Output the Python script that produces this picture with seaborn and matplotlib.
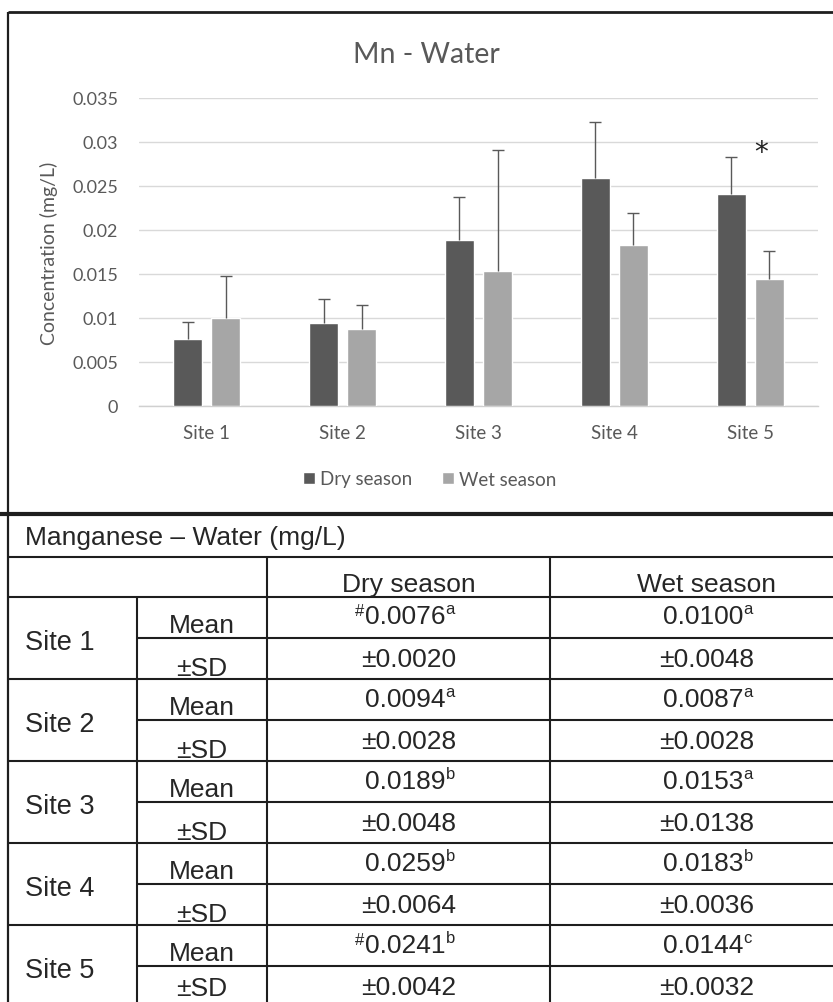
import matplotlib
matplotlib.use("Agg")
import numpy as np
import pandas as pd
import seaborn as sns
import matplotlib.pyplot as plt
from matplotlib.patches import Patch
from matplotlib.lines import Line2D

# ---------------- data ----------------
sites = ["Site 1", "Site 2", "Site 3", "Site 4", "Site 5"]
seasons = ["Dry season", "Wet season"]
dry_mean = [0.0076, 0.0094, 0.0189, 0.0259, 0.0241]
wet_mean = [0.0100, 0.0087, 0.0153, 0.0183, 0.0144]
dry_sd = [0.0020, 0.0028, 0.0048, 0.0064, 0.0042]
wet_sd = [0.0048, 0.0028, 0.0138, 0.0036, 0.0032]
dry_letters = ["a", "a", "b", "b", "b"]
wet_letters = ["a", "a", "a", "b", "c"]
dry_prefix = ["#", "", "", "", "#"]
y_ticks = [0, 0.005, 0.01, 0.015, 0.02, 0.025, 0.03, 0.035]
y_ticklabels = ["0", "0.005", "0.01", "0.015", "0.02", "0.025", "0.03", "0.035"]
chart_title = "Mn - Water"
y_title = "Concentration (mg/L)"
table_title = "Manganese \u2013 Water (mg/L)"
mean_label = "Mean"
sd_label = "\u00b1SD"
star_site = 4  # index of site with significance star (wet bar)

DARK = "#595959"
LIGHT = "#a6a6a6"
TXT = "#595959"
LINE = "#1e1e1e"

sns.set_theme(style="white")
plt.rcParams["font.family"] = ["Lato", "DejaVu Sans"]

W, H = 833, 1003
fig = plt.figure(figsize=(W / 100, H / 100), dpi=100)
fig.patch.set_facecolor("white")

df = pd.DataFrame({
    "Site": sites * 2,
    "Season": [seasons[0]] * len(sites) + [seasons[1]] * len(sites),
    "Mean": dry_mean + wet_mean,
})

ax = fig.add_axes([139 / W, 1 - 407 / H, 679 / W, 308 / H])
sns.barplot(data=df, x="Site", y="Mean", hue="Season", hue_order=seasons,
            palette=[DARK, LIGHT], width=0.56, gap=0.236, errorbar=None,
            saturation=1, legend=False, ax=ax, zorder=3)

bars = ax.patches
xs = np.array([p.get_x() + p.get_width() / 2 for p in bars])
means = np.array(dry_mean + wet_mean)
sds = np.array(dry_sd + wet_sd)
_, caplines, _ = ax.errorbar(xs, means, yerr=[np.zeros_like(sds), sds], fmt="none",
                             ecolor=DARK, elinewidth=1.0, capsize=4, capthick=1.0, zorder=4)
for cl in caplines:
    if np.allclose(cl.get_ydata(), means):
        cl.set_visible(False)

ax.set_ylim(0, 0.035)
ax.set_xlim(-0.5, len(sites) - 0.5)
ax.set_yticks(y_ticks)
ax.set_yticklabels(y_ticklabels)
ax.yaxis.grid(True, color="#d9d9d9", lw=1.0, zorder=0)
ax.set_axisbelow(True)
for s in ["left", "right", "top"]:
    ax.spines[s].set_visible(False)
ax.spines["bottom"].set_color("#d0d0d0")
ax.spines["bottom"].set_linewidth(1.0)
ax.tick_params(axis="both", length=0, colors=TXT)
ax.tick_params(axis="y", pad=15, labelsize=13)
ax.tick_params(axis="x", pad=13, labelsize=13.5)
ax.set_xlabel("")
ax.set_ylabel(y_title, fontsize=14, color=TXT, labelpad=10)

# significance star
ax.annotate("*", xy=(xs[len(sites) + star_site], 0.029), xytext=(-6, -1),
            textcoords="offset points", ha="center", va="center",
            fontsize=20, color="#222222", family=["DejaVu Sans"])

fig.text(426 / W, 1 - 55 / H, chart_title, ha="center", va="center",
         fontsize=20.5, color=TXT)

handles = [Patch(facecolor=DARK, label=seasons[0]), Patch(facecolor=LIGHT, label=seasons[1])]
fig.legend(handles=handles, loc="center", bbox_to_anchor=(430 / W, 1 - 480 / H), ncol=2,
           frameon=False, fontsize=13.5, handlelength=0.6, handleheight=0.6,
           handletextpad=0.3, columnspacing=1.6, labelcolor=TXT)

# ---------------- table ----------------
tx = fig.add_axes([0, 0, 1, 1])
tx.set_xlim(0, W)
tx.set_ylim(H, 0)
tx.axis("off")
tx.patch.set_alpha(0)

tfont = ["Liberation Sans", "DejaVu Sans"]
TFS = 19
SFS = 12
TCOL = "#262626"

def hline(y, x0, x1, lw=1.5):
    tx.add_line(Line2D([x0, x1], [y, y], color=LINE, lw=lw, solid_capstyle="butt"))

def vline(x, y0, y1, lw=1.5):
    tx.add_line(Line2D([x, x], [y0, y1], color=LINE, lw=lw, solid_capstyle="butt"))

def ttext(x, y, s, ha="center", fs=TFS):
    return tx.text(x, y, s, ha=ha, va="center", fontsize=fs, color=TCOL, family=tfont)

def value_with_sup(x, y, s, pre, post):
    t = ttext(x, y, s)
    if pre:
        tx.annotate(pre, xy=(0, 1), xycoords=t, xytext=(-0.2, 0.8), textcoords="offset points",
                    ha="right", va="top", fontsize=SFS, color=TCOL, family=tfont)
    if post:
        tx.annotate(post, xy=(1, 1), xycoords=t, xytext=(0.3, 2.2), textcoords="offset points",
                    ha="left", va="top", fontsize=SFS, color=TCOL, family=tfont)

# chart frame
hline(13, 8, W, lw=2.0)
vline(8, 13, H, lw=1.6)
hline(515, 0, W, lw=3.0)

col_x = [8, 137, 267, 550]
dry_cx, wet_cx = 405, 703
title_bot = 558
head_bot = 598
row_h = 41.05

hline(title_bot, 8, W)
hline(head_bot, 8, W)
vline(col_x[2], title_bot, H)
vline(col_x[3], title_bot, H)
vline(col_x[1], head_bot, H)

ttext(25, 538, table_title, ha="left")
ttext(409, 585, seasons[0])
ttext(707, 585, seasons[1])

for i, site in enumerate(sites):
    top = head_bot + 2 * i * row_h
    mid = top + row_h
    bot = top + 2 * row_h
    hline(mid, col_x[1], W)
    hline(bot, 8, W)
    ttext(25, mid + 4, site, ha="left", fs=TFS + 0.5)
    ttext(202, top + 28, mean_label)
    ttext(202, min(mid + 30, H - 14), sd_label)
    value_with_sup(dry_cx, top + 19.5, f"{dry_mean[i]:.4f}", dry_prefix[i], dry_letters[i])
    value_with_sup(wet_cx, top + 19.5, f"{wet_mean[i]:.4f}", "", wet_letters[i])
    ttext(409, mid + 20.5, f"\u00b1{dry_sd[i]:.4f}")
    ttext(707, mid + 20.5, f"\u00b1{wet_sd[i]:.4f}")

fig.savefig("out.png", dpi=100, facecolor="white")
